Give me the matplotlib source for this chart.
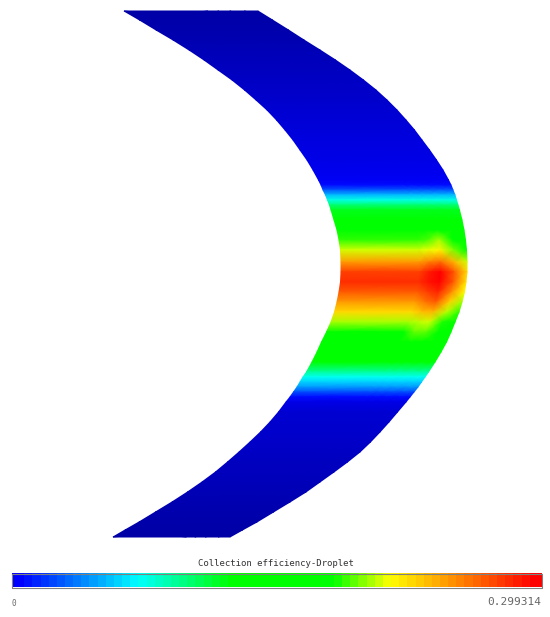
import numpy as np
import matplotlib
matplotlib.use('Agg')
import matplotlib.pyplot as plt
from matplotlib.colors import LinearSegmentedColormap, Normalize

# Everything in pixels (y goes down)
y_rows = [11, 20, 30, 40, 50, 60, 70, 80, 90, 100, 110, 120, 130, 140, 150, 160, 170, 180, 185, 190, 195, 200, 205, 210,
          220, 230, 240, 250, 262, 272, 282, 292, 302, 312, 322, 332, 342, 352, 362, 372, 377, 382, 387, 392, 397, 402,
          412, 422, 432, 442, 452, 462, 472, 482, 492, 502, 512, 522, 530, 537]
x_inner = [124, 139.5, 156, 173, 189, 204, 218, 232, 244.5, 256, 267, 276.5, 285, 293, 300, 307, 313, 318.5, 321, 323,
           325.5, 327.5, 329.5, 331, 334, 337, 339, 340.5, 341, 341, 340.5, 339, 337, 334.5, 331, 326.5, 321.5, 317,
           312, 306.5, 303, 300, 297, 293.5, 290, 286, 278.5, 270, 260.5, 250, 239, 227.5, 215.5, 202, 187.5, 172, 155.5,
           139, 125, 113]
x_outer = [258, 272.5, 288.5, 304, 320, 335.5, 350, 363.5, 376, 387, 397, 406, 414.5, 422, 429.5, 436.5, 443, 448.5, 451,
           453, 455, 456.5, 458, 459.5, 462, 464, 465.5, 466.5, 467, 467, 466, 464.5, 462, 459, 455, 451, 446.5, 441,
           435, 428.5, 425, 421.5, 418, 414, 410, 406, 397.5, 389, 380, 370.5, 360, 347.5, 334, 320, 306, 290, 273.5, 257,
           242.5, 230]

# collection efficiency as a fraction of the maximum along the band,
# below zero is the darker blue at both tips
eff_body = [-.10, -.095, -.09, -.085, -.08, -.075, -.07, -.065, -.06, -.055, -.05, -.045, -.04, -.035, -.03, -.025, -.02,
            -.01, .01, .08, .17, .25, .33, .39, .44, .55, .63, .70, .83, .93, .95, .90, .83, .76, .68, .61, .55, .47,
            .41, .30, .24, .19, .14, .07, .01, -.025, -.05, -.053, -.057, -.06, -.065, -.07, -.074, -.078, -.082, -.086,
            -.09, -.094, -.097, -.10]

# the bright patch near the outer edge
columns = [0.0, 0.62, 0.70, 0.79, 0.90, 1.0]
patch_y = [220, 230, 240, 250, 262, 272, 282, 292, 302, 312, 322, 332, 342]
eff_c70 = [.44, .56, .64, .71, .86, .97, .98, .93, .87, .79, .69, .65, .55]
eff_c79 = [.46, .60, .68, .73, .88, 1.0, 1.0, .96, .90, .80, .70, .65, .55]
eff_c90 = [.44, .55, .60, .66, .80, .90, .90, .84, .77, .69, .62, .58, .53]
eff_edge = [.44, .50, .55, .60, .70, .76, .75, .72, .68, .63, .59, .56, .52]

eff_max = 0.299314
bar_title = 'Collection efficiency-Droplet'

# bar colours, the band goes a bit darker than the bar where nothing is collected
bar_nodes = [(0.0, (0, 0, 1)), (0.23, (0, 1, 1)), (0.41, (0, 1, 0)), (0.61, (0, 1, 0)),
             (0.72, (1, 1, 0)), (1.0, (1, 0, 0))]
bar_cmap = LinearSegmentedColormap.from_list('bar', bar_nodes, N=64)
lo = -0.1
band_nodes = [(0.0, (0, 0, 0.65))] + [((v - lo) / (1 - lo), c) for v, c in bar_nodes]
band_cmap = LinearSegmentedColormap.from_list('band', band_nodes, N=512)

fig = plt.figure(figsize=(5.5, 6.17), dpi=100)
ax = fig.add_axes([0, 0, 1, 1])

yy = np.array(y_rows, dtype=float)
inner = np.array(x_inner, dtype=float)
outer = np.array(x_outer, dtype=float)
s = np.array(columns)
X = inner[:, None] + s[None, :] * (outer - inner)[:, None]
Y = np.repeat(yy[:, None], len(columns), axis=1)
Z = np.repeat(np.array(eff_body)[:, None], len(columns), axis=1)
for i, y in enumerate(patch_y):
    row = y_rows.index(y)
    Z[row, 2:] = [eff_c70[i], eff_c79[i], eff_c90[i], eff_edge[i]]
ax.pcolormesh(X, Y, Z, shading='gouraud', cmap=band_cmap, norm=Normalize(lo, 1.0))

# colour bar
grad = np.linspace(0, 1, 64)[None, :]
ax.imshow(grad, extent=[11.5, 541.5, 587.5, 573.5], cmap=bar_cmap, aspect='auto', interpolation='bilinear')
ax.plot([11.5, 541.5, 541.5, 11.5, 11.5], [573.5, 573.5, 587.5, 587.5, 573.5], color='#808080', lw=0.8)

ax.text(276, 564, bar_title, family='DejaVu Sans Mono', fontsize=6.45, color='#333333', ha='center', va='center')
ax.text(14, 603, '0', family='DejaVu Sans Mono', fontsize=5.5, color='#666666', ha='center', va='center')
ax.text(541.5, 602, f'{eff_max:.6f}', family='DejaVu Sans Mono', fontsize=8, color='#666666', ha='right', va='center')

ax.set_xlim(0, 550)
ax.set_ylim(617, 0)
ax.axis('off')
fig.savefig('out.png', dpi=100)
